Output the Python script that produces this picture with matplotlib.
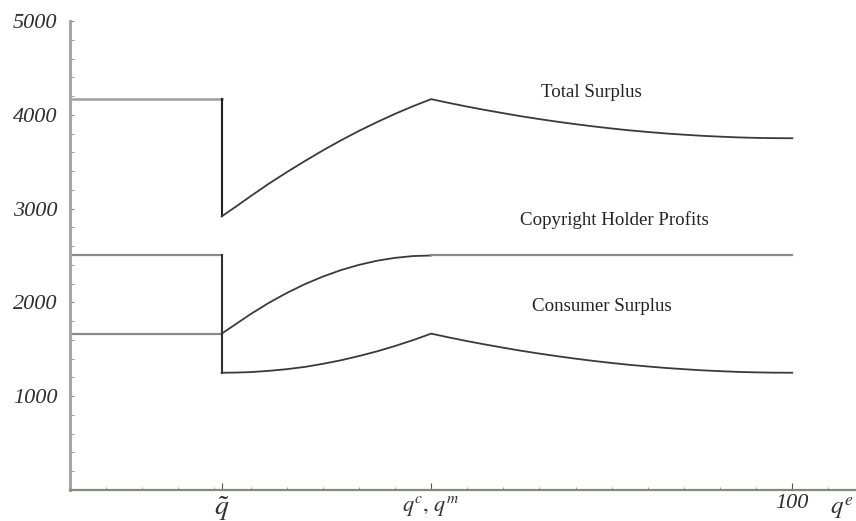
import matplotlib
matplotlib.use("Agg")
import matplotlib.pyplot as plt
from matplotlib.ticker import MultipleLocator, FixedLocator

plt.rcParams["mathtext.fontset"] = "stix"
plt.rcParams["font.family"] = ["Liberation Serif", "DejaVu Serif"]

# Threshold and competitive/monopoly output
q_tilde = 21
q_cm = 50

# Values before the threshold (flat)
ts_flat = 4167
chp_flat = 2500
cs_flat = 1667

# Rising part, from the threshold to q^c
q_rise = [21, 23, 25, 27.5, 30, 32.5, 35, 37.5, 40, 42.5, 45, 47.5, 50]
ts_rise = [2917, 3023, 3132, 3264, 3388, 3506, 3620, 3727, 3828, 3922,
           4010, 4092, 4167]
chp_rise = [1667, 1771, 1875, 1994, 2100, 2194, 2275, 2344, 2400, 2444,
            2475, 2494, 2500]
cs_rise = [1250, 1252, 1257, 1270, 1288, 1312, 1345, 1383, 1428, 1478,
           1535, 1598, 1667]

# Declining part, from q^c to 100
q_fall = [50, 52.5, 55, 57.5, 60, 62.5, 65, 67.5, 70, 72.5, 75, 77.5, 80,
          82.5, 85, 87.5, 90, 92.5, 95, 97.5, 100]
ts_fall = [4167, 4126, 4087, 4051, 4017, 3984, 3954, 3926, 3900, 3876,
           3854, 3834, 3817, 3801, 3788, 3776, 3767, 3759, 3754, 3751, 3750]
chp_fall = [2500] * len(q_fall)
cs_fall = [1667, 1626, 1587, 1551, 1517, 1484, 1454, 1426, 1400, 1376,
           1354, 1334, 1317, 1301, 1288, 1276, 1267, 1259, 1254, 1251, 1250]

x_tick_vals = [q_tilde, q_cm, 100]
x_tick_labels = [r"$\tilde{q}$", r"$q^c,\, q^m$", "100"]

fig = plt.figure(figsize=(8.56, 5.21), dpi=100)
ax = fig.add_axes([0.0818, 0.0595, 0.918, 0.9002])

line_kw = dict(color="#3a3a3a", lw=1.3)
flat_kw = dict(color="#8a8a8a", lw=1.6)

# Flat segments before the threshold
ax.plot([0, q_tilde], [ts_flat, ts_flat], color="#a09ca6", lw=1.8)
ax.plot([0, q_tilde], [chp_flat, chp_flat], **flat_kw)
ax.plot([0, q_tilde], [cs_flat, cs_flat], **flat_kw)

# Drops at the threshold
ax.plot([q_tilde, q_tilde], [ts_flat, ts_rise[0]], color="#202020", lw=1.5)
ax.plot([q_tilde, q_tilde], [chp_flat, cs_rise[0]], color="#303030", lw=1.5)

# Curves after the threshold
ax.plot(q_rise + q_fall[1:], ts_rise + ts_fall[1:], **line_kw)
ax.plot(q_rise, chp_rise, **line_kw)
ax.plot(q_fall, chp_fall, **flat_kw)
ax.plot(q_rise + q_fall[1:], cs_rise + cs_fall[1:], **line_kw)

ax.set_xlim(0, 108.8)
ax.set_ylim(0, 5000)

for s in ("top", "right"):
    ax.spines[s].set_visible(False)
ax.spines["left"].set_color("#a8a4ad")
ax.spines["left"].set_linewidth(2.2)
ax.spines["bottom"].set_color("#7f8a80")
ax.spines["bottom"].set_linewidth(1.6)

ax.yaxis.set_minor_locator(MultipleLocator(200))
ax.set_yticks([1000, 2000, 3000, 4000, 5000])
ax.set_yticklabels(["1000", "2000", "3000", "4000", "5000"],
                   fontstyle="italic", fontsize=16, color="#303030")
ax.tick_params(axis="y", which="both", direction="in", length=3,
               color="#8a8a8a", pad=9)

ax.xaxis.set_major_locator(FixedLocator(x_tick_vals))
ax.xaxis.set_minor_locator(FixedLocator([v for v in range(5, 106, 5)]))
ax.set_xticklabels(x_tick_labels, fontsize=16, color="#303030",
                   fontstyle="italic")
ax.get_xticklabels()[0].set_fontsize(20)
ax.tick_params(axis="x", which="major", direction="in", length=5,
               color="#555555", pad=3)
ax.tick_params(axis="x", which="minor", direction="in", length=2.5,
               color="#888888")

ax.text(106.8, -0.04, r"$q^e$", transform=ax.get_xaxis_transform(),
        fontsize=18, ha="center", va="center", color="#303030")

label_kw = dict(fontsize=13.6, ha="center", va="center", color="#222222")
ax.text(72.2, 4240, "Total Surplus", **label_kw)
ax.text(75.4, 2880, "Copyright Holder Profits", **label_kw)
ax.text(73.6, 1960, "Consumer Surplus", **label_kw)

fig.savefig("out.png", dpi=100)
